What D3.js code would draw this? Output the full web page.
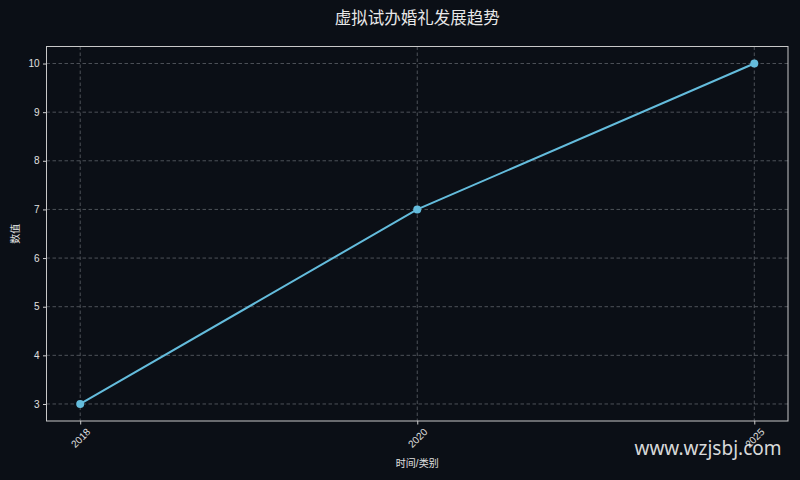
<!DOCTYPE html>
<html><head><meta charset="utf-8">
<script src="https://cdn.jsdelivr.net/npm/d3@7"></script>
<style>html,body{margin:0;padding:0;background:#0b0f16;}svg{display:block;}</style>
</head><body>
<script>
const categories = ["2018", "2020", "2025"];
const values = [3, 7, 10];
const yTicks = [3, 4, 5, 6, 7, 8, 9, 10];
const title = "虚拟试办婚礼发展趋势";
const xLabel = "时间/类别";
const yLabel = "数值";
const watermark = "www.wzjsbj.com";

const W = 800, H = 480;
const m = {left: 46.5, right: 12, top: 46.5, bottom: 59};
const font = "'Liberation Sans','Noto Sans CJK SC',sans-serif";
const svg = d3.select("body").append("svg").attr("width", W).attr("height", H);
svg.append("rect").attr("width", W).attr("height", H).attr("fill", "#0b0f16");

const x0 = m.left, x1 = W - m.right, y0 = m.top, y1 = H - m.bottom;
const x = d3.scaleLinear().domain([-0.1, categories.length - 1 + 0.1]).range([x0, x1]);
const y = d3.scaleLinear().domain([2.65, 10.35]).range([y1, y0]);

const g = svg.append("g");
// grid
g.selectAll(".gy").data(yTicks).enter().append("line")
  .attr("x1", x0).attr("x2", x1).attr("y1", d => y(d)).attr("y2", d => y(d))
  .attr("stroke", "#5e626a").attr("stroke-width", 0.8).attr("stroke-dasharray", "3.5,2.5");
g.selectAll(".gx").data(categories).enter().append("line")
  .attr("x1", (d,i) => x(i)).attr("x2", (d,i) => x(i)).attr("y1", y0).attr("y2", y1)
  .attr("stroke", "#5e626a").attr("stroke-width", 0.8).attr("stroke-dasharray", "3.5,2.5");

// axes
const yAxis = d3.axisLeft(y).tickValues(yTicks).tickSize(3.5).tickPadding(3.5).tickFormat(d3.format("d"));
const ya = svg.append("g").attr("transform", `translate(${x0},0)`).call(yAxis);
ya.select(".domain").remove();
ya.selectAll("line").attr("stroke", "#d0d0d0");
ya.selectAll("text").attr("fill", "#e0e0e0").attr("font-size", 10).attr("font-family", font);

const xAxis = d3.axisBottom(x).tickValues(categories.map((d,i) => i)).tickSize(3.5).tickFormat(i => categories[i]);
const xa = svg.append("g").attr("transform", `translate(0,${y1})`).call(xAxis);
xa.select(".domain").remove();
xa.selectAll("line").attr("stroke", "#d0d0d0");
xa.selectAll("text").attr("fill", "#e0e0e0").attr("font-size", 10).attr("font-family", font)
  .attr("y", 0).attr("dy", null).attr("text-anchor", "middle").attr("dominant-baseline", "central")
  .attr("transform", "translate(0,17) rotate(-45)");

// spines
svg.append("rect").attr("x", x0).attr("y", y0).attr("width", x1 - x0).attr("height", y1 - y0)
  .attr("fill", "none").attr("stroke", "#c8c8c8").attr("stroke-width", 1);

// line
const line = d3.line().x((d,i) => x(i)).y(d => y(d));
svg.append("path").datum(values).attr("d", line).attr("fill", "none")
  .attr("stroke", "#64bcdc").attr("stroke-width", 2);
svg.selectAll(".pt").data(values).enter().append("circle")
  .attr("cx", (d,i) => x(i)).attr("cy", d => y(d)).attr("r", 4).attr("fill", "#64bcdc");

// labels
svg.append("text").attr("x", (x0 + x1) / 2).attr("y", 24).attr("text-anchor", "middle")
  .attr("fill", "#e8e8e8").attr("font-size", 16.5).attr("font-family", font).text(title);
svg.append("text").attr("x", (x0 + x1) / 2).attr("y", 467).attr("text-anchor", "middle")
  .attr("fill", "#e0e0e0").attr("font-size", 10).attr("font-family", font).text(xLabel);
svg.append("text").attr("transform", `translate(19,${(y0 + y1) / 2}) rotate(-90)`).attr("text-anchor", "middle")
  .attr("fill", "#e0e0e0").attr("font-size", 10).attr("font-family", font).text(yLabel);
svg.append("text").attr("x", 708).attr("y", 455).attr("text-anchor", "middle")
  .attr("fill", "#ffffff").attr("fill-opacity", 0.85).attr("font-size", 19).attr("font-family", "'Noto Sans','DejaVu Sans',sans-serif").text(watermark);
</script>
</body></html>
